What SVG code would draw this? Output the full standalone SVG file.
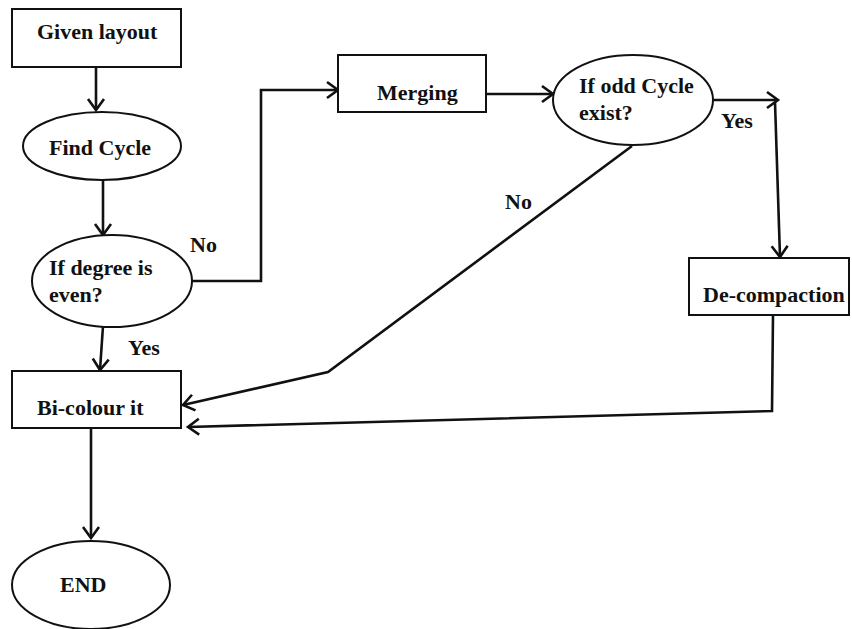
<svg xmlns="http://www.w3.org/2000/svg" width="852" height="629" viewBox="0 0 852 629">
  <defs>
    <style>
      .box { fill: #fff; stroke: #111; stroke-width: 2; }
      .link { fill: none; stroke: #111; stroke-width: 2.6; stroke-linejoin: miter; }
      .lbl { font-family: "Liberation Serif", "Times New Roman", serif; font-weight: bold; font-size: 22px; fill: #111; }
    </style>
    <marker id="arrow" markerUnits="userSpaceOnUse" markerWidth="16" markerHeight="20" viewBox="0 0 16 20" refX="13" refY="10" orient="auto">
      <path d="M2,2 L13,10 L2,18" fill="none" stroke="#111" stroke-width="2.6"/>
    </marker>
  </defs>
  <rect width="852" height="629" fill="#fff"/>

  <g id="connectors">
    <path class="link" d="M96,67 L96,110" marker-end="url(#arrow)"/>
    <path class="link" d="M103,180 L103,235" marker-end="url(#arrow)"/>
    <path class="link" d="M192,281 L261,281 L261,90 L338,90" marker-end="url(#arrow)"/>
    <path class="link" d="M486,94 L553,94" marker-end="url(#arrow)"/>
    <path class="link" d="M713,100 L778,100" marker-end="url(#arrow)"/>
    <path class="link" d="M775,102 L780,257" marker-end="url(#arrow)"/>
    <path class="link" d="M632,146 L328,372 L183,405" marker-end="url(#arrow)"/>
    <path class="link" d="M773,315 L772,411 L188,427" marker-end="url(#arrow)"/>
    <path class="link" d="M103,326 L100,370" marker-end="url(#arrow)"/>
    <path class="link" d="M91,428 L91,538" marker-end="url(#arrow)"/>
  </g>

  <g id="given-layout">
    <rect class="box" x="12" y="9" width="169" height="58"/>
    <text class="lbl" x="37" y="39">Given layout</text>
  </g>
  <g id="find-cycle">
    <ellipse class="box" cx="102" cy="146" rx="79" ry="34"/>
    <text class="lbl" x="49" y="155">Find Cycle</text>
  </g>
  <g id="degree-even">
    <ellipse class="box" cx="112" cy="281" rx="80" ry="46"/>
    <text class="lbl" x="49" y="275">If degree is</text>
    <text class="lbl" x="49" y="302">even?</text>
  </g>
  <g id="merging">
    <rect class="box" x="338" y="55" width="148" height="57"/>
    <text class="lbl" x="377" y="100">Merging</text>
  </g>
  <g id="odd-cycle">
    <ellipse class="box" cx="633" cy="100" rx="80" ry="45"/>
    <text class="lbl" x="579" y="93">If odd Cycle</text>
    <text class="lbl" x="579" y="120">exist?</text>
  </g>
  <g id="de-compaction">
    <rect class="box" x="689" y="258" width="160" height="57"/>
    <text class="lbl" x="703" y="302">De-compaction</text>
  </g>
  <g id="bi-colour">
    <rect class="box" x="12" y="371" width="169" height="57"/>
    <text class="lbl" x="37" y="415">Bi-colour it</text>
  </g>
  <g id="end">
    <ellipse class="box" cx="91" cy="585" rx="79" ry="44"/>
    <text class="lbl" x="60" y="592">END</text>
  </g>

  <g id="edge-labels">
    <text class="lbl" x="190" y="252">No</text>
    <text class="lbl" x="128" y="355">Yes</text>
    <text class="lbl" x="505" y="209">No</text>
    <text class="lbl" x="721" y="128">Yes</text>
  </g>
</svg>
